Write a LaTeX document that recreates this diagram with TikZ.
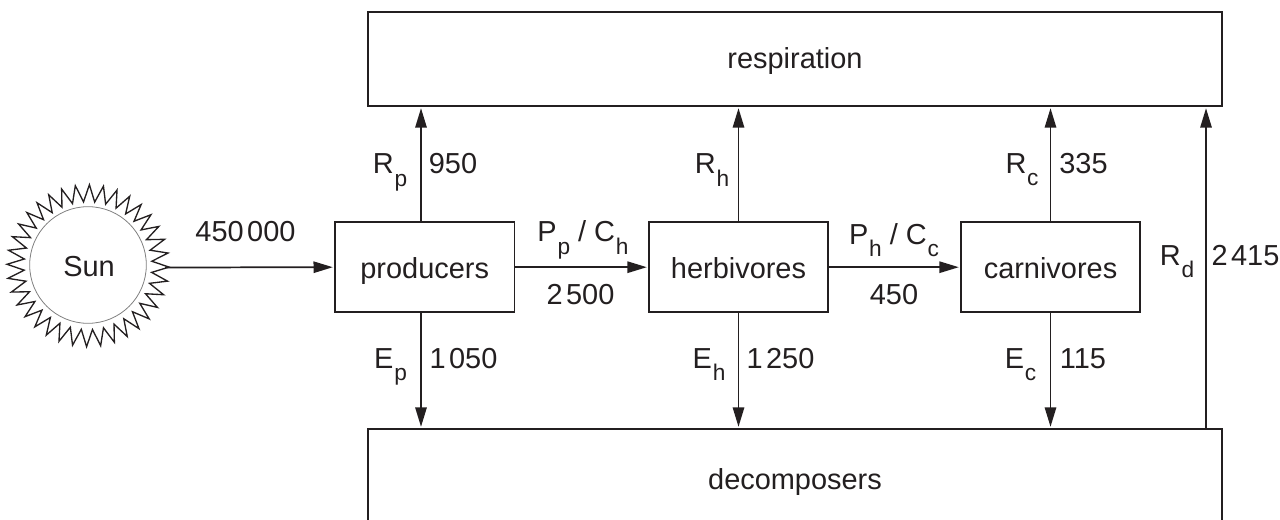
\documentclass[tikz,border=0pt]{standalone}
\usepackage{fontspec}
\setmainfont{Liberation Sans}
\usetikzlibrary{arrows.meta}
\definecolor{ink}{RGB}{35,31,32}
\newcommand{\lowsub}[1]{\kern0.6pt\raisebox{-9.3pt}{\fontsize{17}{17}\selectfont #1}}
\newcommand{\numgap}{\kern2.6pt}
\tikzset{
  x=0.75pt,y=-0.75pt,
  every node/.style={font=\fontsize{21.7}{24}\selectfont,text=ink},
  box/.style={draw=ink,line width=1.3pt,fill=white,inner sep=0pt,text height=16.5pt,text depth=0pt},
  flow/.style={draw=ink,line width=1.3pt,shorten >=1pt,-{Triangle[length=14.5pt,width=8.5pt]}},
  lab/.style={inner sep=0pt,anchor=base},
}
\begin{document}
\begin{tikzpicture}
\useasboundingbox (0,0) rectangle (1280,520);
\clip (0,0) rectangle (1280,520);
% sun
\draw[ink,line width=1pt,line join=miter]
  plot[samples=72,domain=0:71] ({88+(mod(\x,2)==0?81:64)*cos(\x*5+1)},{265.7+(mod(\x,2)==0?81:64)*sin(\x*5+1)}) -- cycle;
\node[circle,draw=gray,line width=0.6pt,minimum size=87.5pt,inner sep=0pt] (sun) at (88,265) {};
\node[lab] (sunlabel) at (89,276.7) {Sun};
\coordinate (suntip) at (165,267.5);
% boxes
\node[box,minimum width=640pt,minimum height=70.5pt,text height=14pt] (resp) at (795,59) {respiration};
\node[box,minimum width=640pt,minimum height=74.1pt] (dec) at (795,478.4) {decomposers};
\node[box,minimum width=134.5pt,minimum height=67.5pt] (prod) at (424.7,267.2) {producers};
\node[box,minimum width=134.25pt,minimum height=67.5pt] (herb) at (738.5,267.2) {herbivores};
\node[box,minimum width=134.25pt,minimum height=67.5pt] (carn) at (1050.5,267.2) {carnivores};
% flows
\draw[flow] (suntip) -- (prod.west);
\draw[flow] (prod.east) -- (herb.west);
\draw[flow] (herb.east) -- (carn.west);
\draw[flow] (421,0 |- prod.north) -- (421,0 |- resp.south);
\draw[flow] (herb.north) -- (herb.north |- resp.south);
\draw[flow] (carn.north) -- (carn.north |- resp.south);
\draw[flow] (1206,0 |- dec.north) -- (1206,0 |- resp.south);
\draw[flow] (421,0 |- prod.south) -- (421,0 |- dec.north);
\draw[flow] (herb.south) -- (herb.south |- dec.north);
\draw[flow] (carn.south) -- (carn.south |- dec.north);
% labels
\node[lab] (l1) at (245.5,241.7) {450\numgap000};
\node[lab] (l2) at (390,174) {R\lowsub{p}};
\node[lab] (l3) at (453,174) {950};
\node[lab] (l4) at (712,174) {R\lowsub{h}};
\node[lab] (l5) at (1022,173.5) {R\lowsub{c}};
\node[lab] (l6) at (1083.5,173.5) {335};
\node[lab] (l7) at (1177,265) {R\lowsub{d}};
\node[lab] (l8) at (1245.5,265) {2\numgap415};
\node[lab] (l9) at (583,241.7) {P\lowsub{p} / C\lowsub{h}};
\node[lab] (l10) at (580.5,304.3) {2\numgap500};
\node[lab] (l11) at (894,244) {P\lowsub{h} / C\lowsub{c}};
\node[lab] (l12) at (894,304.3) {450};
\node[lab] (l13) at (390.5,368) {E\lowsub{p}};
\node[lab] (l14) at (463.5,368) {1\numgap050};
\node[lab] (l15) at (709,368) {E\lowsub{h}};
\node[lab] (l16) at (780.5,368) {1\numgap250};
\node[lab] (l17) at (1020.5,368) {E\lowsub{c}};
\node[lab] (l18) at (1083,368) {115};
\end{tikzpicture}
\end{document}
